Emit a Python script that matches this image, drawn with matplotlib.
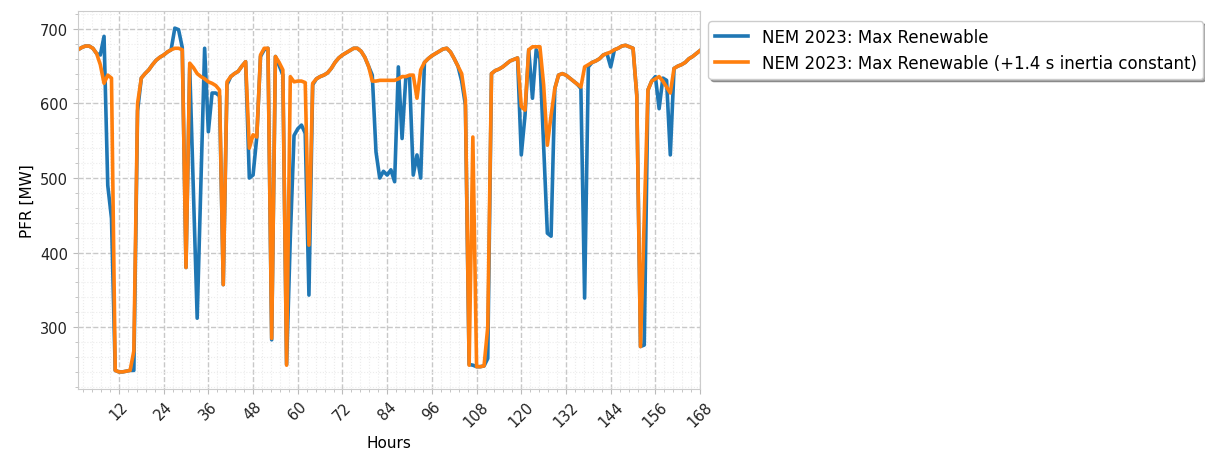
import matplotlib
matplotlib.use("Agg")
import matplotlib.pyplot as plt
from matplotlib.ticker import AutoMinorLocator
import numpy as np

# hourly PFR values, hours 1..168
hours = np.arange(1, 169)

pfr_max_ren = [
    672, 675, 677, 677, 674, 667, 665, 690, 490, 446,   # 1-10
    242, 240, 240, 241, 242, 242, 590, 634, 640, 645,   # 11-20
    652, 658, 662, 665, 669, 672, 701, 699, 675, 380,   # 21-30
    648, 480, 312, 493, 674, 562, 614, 614, 610, 357,   # 31-40
    625, 636, 640, 643, 650, 656, 500, 504, 555, 663,   # 41-50
    672, 674, 283, 663, 651, 638, 250, 420, 557, 566,   # 51-60
    571, 560, 343, 625, 633, 636, 638, 641, 647, 655,   # 61-70
    661, 665, 668, 671, 674, 674, 670, 662, 650, 638,   # 71-80
    535, 500, 509, 504, 511, 495, 649, 553, 634, 636,   # 81-90
    504, 531, 500, 655, 660, 664, 667, 670, 673, 674,   # 91-100
    669, 660, 650, 630, 598, 250, 249, 247, 247, 248,   # 101-110
    258, 640, 644, 646, 649, 653, 657, 659, 661, 531,   # 111-120
    584, 672, 607, 672, 660, 544, 426, 422, 620, 638,   # 121-130
    640, 638, 634, 630, 626, 620, 339, 649, 655, 657,   # 131-140
    660, 665, 667, 649, 672, 674, 677, 678, 676, 674,   # 141-150
    611, 274, 276, 618, 630, 636, 593, 634, 631, 531,   # 151-160
    647, 650, 652, 655, 660, 663, 667, 671,             # 161-168
]

pfr_max_ren_h = [
    672, 675, 677, 677, 674, 667, 652, 627, 638, 634,   # 1-10
    242, 240, 240, 241, 242, 268, 600, 634, 640, 645,   # 11-20
    652, 658, 662, 665, 669, 672, 674, 674, 672, 380,   # 21-30
    654, 648, 640, 636, 633, 629, 627, 624, 618, 357,   # 31-40
    629, 636, 640, 643, 650, 656, 540, 558, 555, 665,   # 41-50
    674, 674, 285, 663, 655, 645, 249, 636, 629, 630,   # 51-60
    630, 628, 410, 627, 633, 636, 638, 641, 647, 655,   # 61-70
    661, 665, 668, 671, 674, 674, 670, 662, 650, 630,   # 71-80
    630, 631, 631, 631, 631, 631, 633, 636, 636, 638,   # 81-90
    638, 607, 645, 655, 660, 664, 667, 670, 673, 674,   # 91-100
    669, 660, 650, 640, 605, 249, 555, 247, 247, 248,   # 101-110
    300, 640, 644, 646, 649, 653, 657, 659, 661, 596,   # 111-120
    591, 672, 676, 676, 676, 625, 544, 584, 620, 638,   # 121-130
    640, 638, 634, 630, 626, 622, 649, 652, 655, 657,   # 131-140
    660, 665, 667, 669, 672, 674, 677, 678, 676, 674,   # 141-150
    611, 274, 446, 618, 630, 633, 636, 630, 622, 614,   # 151-160
    647, 650, 652, 655, 660, 663, 667, 671,             # 161-168
]

xtick_vals = list(range(12, 169, 12))
ytick_vals = [300, 400, 500, 600, 700]
labels = ["NEM 2023: Max Renewable",
          "NEM 2023: Max Renewable (+1.4 s inertia constant)"]


def style_axes(ax):
    for s in ax.spines.values():
        s.set_color("#cccccc")
    ax.tick_params(which="both", colors="#bbbbbb", labelcolor="#222222",
                   labelsize=10.5)
    ax.tick_params(which="minor", length=2.5)
    ax.xaxis.set_minor_locator(AutoMinorLocator(5))
    ax.yaxis.set_minor_locator(AutoMinorLocator(5))
    ax.grid(which="major", linestyle="--", color="#c8c8c8", linewidth=1.0)
    ax.grid(which="minor", linestyle=":", color="#ececec", linewidth=0.8)
    ax.set_axisbelow(True)


def main():
    fig = plt.figure(figsize=(12.05, 4.6), dpi=100)
    ax = fig.add_axes([0.0647, 0.152, 0.5163, 0.822])

    ax.plot(hours, pfr_max_ren, color="#1f77b4", lw=2.6, label=labels[0])
    ax.plot(hours, pfr_max_ren_h, color="#ff7f0e", lw=2.6, label=labels[1])

    ax.set_xlim(1, 168)
    ax.set_xticks(xtick_vals)
    ax.set_yticks(ytick_vals)
    plt.setp(ax.get_xticklabels(), rotation=45)
    style_axes(ax)

    ax.set_xlabel("Hours", fontsize=11)
    ax.set_ylabel("PFR [MW]", fontsize=11)

    ax.legend(loc="upper left", bbox_to_anchor=(1.013, 0.973), shadow=True,
              fontsize=12, framealpha=1, borderaxespad=0)

    fig.savefig("out.png", dpi=100)


if __name__ == "__main__":
    main()
